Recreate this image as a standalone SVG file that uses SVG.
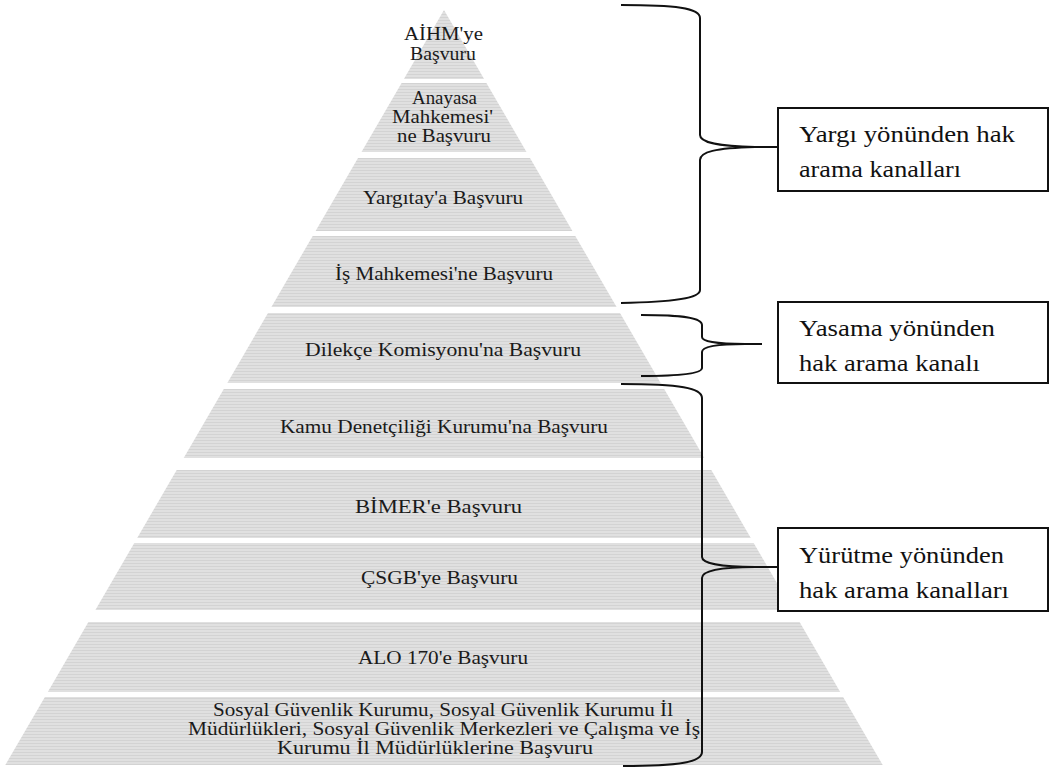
<svg xmlns="http://www.w3.org/2000/svg" width="1052" height="769" viewBox="0 0 1052 769">
<defs>
<pattern id="tex" width="4" height="3" patternUnits="userSpaceOnUse">
<rect width="4" height="3" fill="#e0e0e0"/>
<rect y="2" width="4" height="1" fill="#d3d3d3"/>
</pattern>
<style>
.band{fill:url(#tex);stroke:none}
.t{font-family:'Liberation Serif',serif;font-size:18px;fill:#1a1a1a;text-anchor:middle}
.bt{font-family:'Liberation Serif',serif;font-size:23px;fill:#111}
.box{fill:#fff;stroke:#111;stroke-width:2}
.brace{fill:none;stroke:#111;stroke-width:2}
</style>
</defs>
<rect width="1052" height="769" fill="#fff"/>
<g id="band-aihm">
<polygon class="band" points="444,10 484.1,79 403.9,79"/>
<text class="t" x="443.5" y="40" textLength="79" lengthAdjust="spacingAndGlyphs">AİHM'ye</text>
<text class="t" x="443" y="60" textLength="66" lengthAdjust="spacingAndGlyphs">Başvuru</text>
</g>
<g id="band-anayasa">
<polygon class="band" points="401.6,83 486.4,83 526.5,152 361.5,152"/>
<text class="t" x="444.5" y="104" textLength="65" lengthAdjust="spacingAndGlyphs">Anayasa</text>
<text class="t" x="442.5" y="123" textLength="101" lengthAdjust="spacingAndGlyphs">Mahkemesi'</text>
<text class="t" x="444" y="142" textLength="94" lengthAdjust="spacingAndGlyphs">ne Başvuru</text>
</g>
<g id="band-yargitay">
<polygon class="band" points="358,158 530,158 572.4,231 315.6,231"/>
<text class="t" x="443" y="204" textLength="160" lengthAdjust="spacingAndGlyphs">Yargıtay'a  Başvuru</text>
</g>
<g id="band-is">
<polygon class="band" points="312.7,236 575.3,236 616.6,307 271.4,307"/>
<text class="t" x="444" y="280" textLength="218" lengthAdjust="spacingAndGlyphs">İş Mahkemesi'ne Başvuru</text>
</g>
<g id="band-dilekce">
<polygon class="band" points="268,313 620,313 660.7,383 227.3,383"/>
<text class="t" x="443" y="356" textLength="276" lengthAdjust="spacingAndGlyphs">Dilekçe Komisyonu'na Başvuru</text>
</g>
<g id="band-kamu">
<polygon class="band" points="223.8,389 664.2,389 704.3,458 183.7,458"/>
<text class="t" x="444" y="433" textLength="328" lengthAdjust="spacingAndGlyphs">Kamu Denetçiliği Kurumu'na Başvuru</text>
</g>
<g id="band-bimer">
<polygon class="band" points="176.7,470 711.3,470 750.8,538 137.2,538"/>
<text class="t" x="438.5" y="513" textLength="167" lengthAdjust="spacingAndGlyphs">BİMER'e Başvuru</text>
</g>
<g id="band-csgb">
<polygon class="band" points="134.3,543 753.7,543 792.6,610 95.4,610"/>
<text class="t" x="439.5" y="584" textLength="157" lengthAdjust="spacingAndGlyphs">ÇSGB'ye Başvuru</text>
</g>
<g id="band-alo">
<polygon class="band" points="88.4,622 799.6,622 840.2,692 47.8,692"/>
<text class="t" x="443" y="664" textLength="170" lengthAdjust="spacingAndGlyphs">ALO 170'e Başvuru</text>
</g>
<g id="band-sgk">
<polygon class="band" points="44.9,697 843.1,697 882.7,765 5.3,765"/>
<text class="t" x="443" y="716" textLength="460" lengthAdjust="spacingAndGlyphs">Sosyal Güvenlik Kurumu, Sosyal Güvenlik Kurumu İl</text>
<text class="t" x="444" y="735" textLength="512" lengthAdjust="spacingAndGlyphs">Müdürlükleri, Sosyal Güvenlik Merkezleri ve Çalışma ve İş</text>
<text class="t" x="435" y="754" textLength="316" lengthAdjust="spacingAndGlyphs">Kurumu İl Müdürlüklerine Başvuru</text>
</g>

<g id="connectors">
<path class="brace" d="M621 5 C675 5 700 8 700 18 L700 135 C700 142 715 146 755 147 L777 147 M755 147 C715 148 700 152 700 160 L700 290 C700 298 675 302 621 303"/>
<path class="brace" d="M641 315 C685 315 702 318 702 325 L702 337 C702 341 715 344 745 344 L762 344 M745 344 C715 344 702 347 702 352 L702 368 C702 373 685 376 641 376"/>
<path class="brace" d="M621 384 C680 384 702 388 702 398 L702 557 C702 563 720 567 755 567 L777 567 M755 567 C720 567 702 571 702 578 L702 752 C702 762 680 766 623 766"/>
</g>

<g id="box-yargi">
<rect class="box" x="778" y="108" width="270" height="83"/>
<text class="bt" x="799" y="142" textLength="216" lengthAdjust="spacingAndGlyphs">Yargı yönünden hak</text>
<text class="bt" x="799" y="177" textLength="162" lengthAdjust="spacingAndGlyphs">arama kanalları</text>
</g>
<g id="box-yasama">
<rect class="box" x="778" y="302" width="270" height="81"/>
<text class="bt" x="799" y="336" textLength="196" lengthAdjust="spacingAndGlyphs">Yasama yönünden</text>
<text class="bt" x="799" y="371" textLength="181" lengthAdjust="spacingAndGlyphs">hak arama kanalı</text>
</g>
<g id="box-yurutme">
<rect class="box" x="778" y="528" width="270" height="83"/>
<text class="bt" x="799" y="563" textLength="205" lengthAdjust="spacingAndGlyphs">Yürütme yönünden</text>
<text class="bt" x="799" y="598" textLength="210" lengthAdjust="spacingAndGlyphs">hak arama kanalları</text>
</g>
</svg>
